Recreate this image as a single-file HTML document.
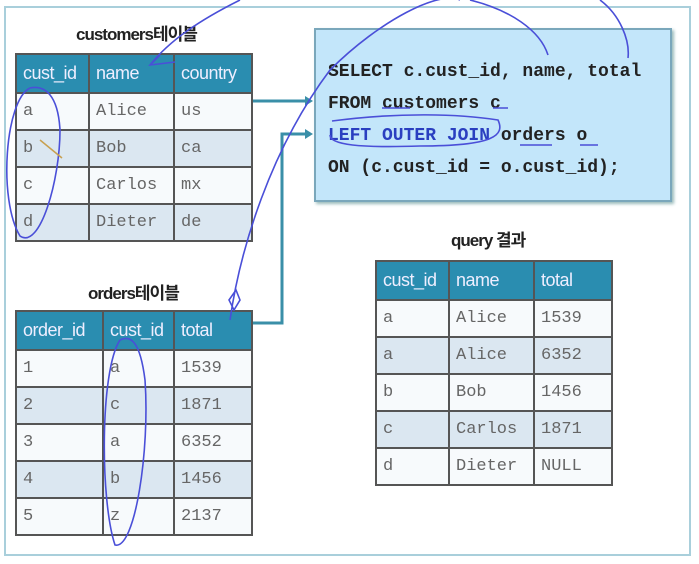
<!DOCTYPE html>
<html><head><meta charset="utf-8"><style>
body{margin:0;width:699px;height:564px;background:#fff;position:relative;overflow:hidden;font-family:"Liberation Sans","Noto Sans CJK KR",sans-serif}
.outer{position:absolute;left:4px;top:6px;width:687px;height:550px;border:2px solid #a9cfdb;box-sizing:border-box}
table{position:absolute;border-collapse:collapse;border:2px solid #555;table-layout:fixed}
td,th{border:2px solid #555;padding:0 0 0 6px;text-align:left;height:35px;font-family:"Liberation Mono",monospace;font-size:17px;color:#666;font-weight:normal;overflow:hidden;white-space:nowrap}
th{background:#2a8db0;color:#eef;font-family:"Liberation Sans",sans-serif;font-size:18px;letter-spacing:-0.5px;height:37px}
tr:nth-child(odd) td{background:#dbe7f1}
tr:nth-child(even) td{background:#f7fafc}
.title{position:absolute;font-weight:bold;font-size:17px;color:#222;letter-spacing:-1px}
.sql{position:absolute;left:314px;top:28px;width:358px;height:174px;background:#c3e6fa;border:2px solid #7aa7bb;box-sizing:border-box;box-shadow:2px 2px 3px #9bb}
.sql pre{margin:0;position:absolute;left:12px;top:26px;font-family:"Liberation Mono",monospace;font-weight:bold;font-size:18px;line-height:32px;color:#222}
</style></head><body>
<div class="outer"></div>
<div class="title" style="left:76px;top:20px">customers테이블</div>
<table style="left:15px;top:53px;width:238px">
<col style="width:73px"><col style="width:85px"><col>
<tr><th>cust_id</th><th>name</th><th>country</th></tr>
<tr><td>a</td><td>Alice</td><td>us</td></tr>
<tr><td>b</td><td>Bob</td><td>ca</td></tr>
<tr><td>c</td><td>Carlos</td><td>mx</td></tr>
<tr><td>d</td><td>Dieter</td><td>de</td></tr>
</table>
<div class="title" style="left:88px;top:279px">orders테이블</div>
<table style="left:15px;top:310px;width:238px">
<col style="width:87px"><col style="width:71px"><col>
<tr><th>order_id</th><th>cust_id</th><th>total</th></tr>
<tr><td>1</td><td>a</td><td>1539</td></tr>
<tr><td>2</td><td>c</td><td>1871</td></tr>
<tr><td>3</td><td>a</td><td>6352</td></tr>
<tr><td>4</td><td>b</td><td>1456</td></tr>
<tr><td>5</td><td>z</td><td>2137</td></tr>
</table>
<div class="title" style="left:451px;top:226px">query 결과</div>
<table style="left:375px;top:260px;width:238px">
<col style="width:73px"><col style="width:85px"><col>
<tr><th>cust_id</th><th>name</th><th>total</th></tr>
<tr><td>a</td><td>Alice</td><td>1539</td></tr>
<tr><td>a</td><td>Alice</td><td>6352</td></tr>
<tr><td>b</td><td>Bob</td><td>1456</td></tr>
<tr><td>c</td><td>Carlos</td><td>1871</td></tr>
<tr><td>d</td><td>Dieter</td><td>NULL</td></tr>
</table>
<div class="sql"><pre>SELECT c.cust_id, name, total
FROM customers c
<span style="color:#2a3fc0">LEFT OUTER JOIN</span> orders o
ON (c.cust_id = o.cust_id);</pre></div>
<svg width="699" height="564" style="position:absolute;left:0;top:0">
<g stroke="#3a8fa8" stroke-width="3" fill="none">
<path d="M253 101 H306"/><path d="M253 323 H282 V134 H306"/>
</g>
<g fill="#3a8fa8"><path d="M313 101 l-8 -5 v10z"/><path d="M313 134 l-8 -5 v10z"/></g>
<g stroke="#4a4fd8" stroke-width="1.6" fill="none">
<path d="M30 88 C5 100 -2 200 20 236 C40 250 60 180 60 130 C58 95 45 85 30 88"/>
<path d="M240 0 C200 20 170 40 150 65 L175 62 M150 65 L160 55"/>
<path d="M230 320 C240 250 270 150 330 70 C380 20 440 -10 460 0 M470 0 C510 10 540 30 548 55"/>
<path d="M600 0 C620 15 630 40 628 58"/>
<path d="M229 300 L236 290 L240 300 L234 310 Z"/>
<path d="M120 340 C100 370 100 500 115 545 C135 550 150 450 145 380 C140 340 130 335 120 340"/>
<path d="M332 121 C400 112 460 114 498 120 C505 135 495 146 420 146 C360 148 330 145 330 135"/>
<path d="M382 108 H410 M493 108 H508 M520 145 H552 M580 145 H598"/>
</g>
<path d="M40 140 L62 158" stroke="#c8a050" stroke-width="1.5"/>
</svg>
</body></html>
